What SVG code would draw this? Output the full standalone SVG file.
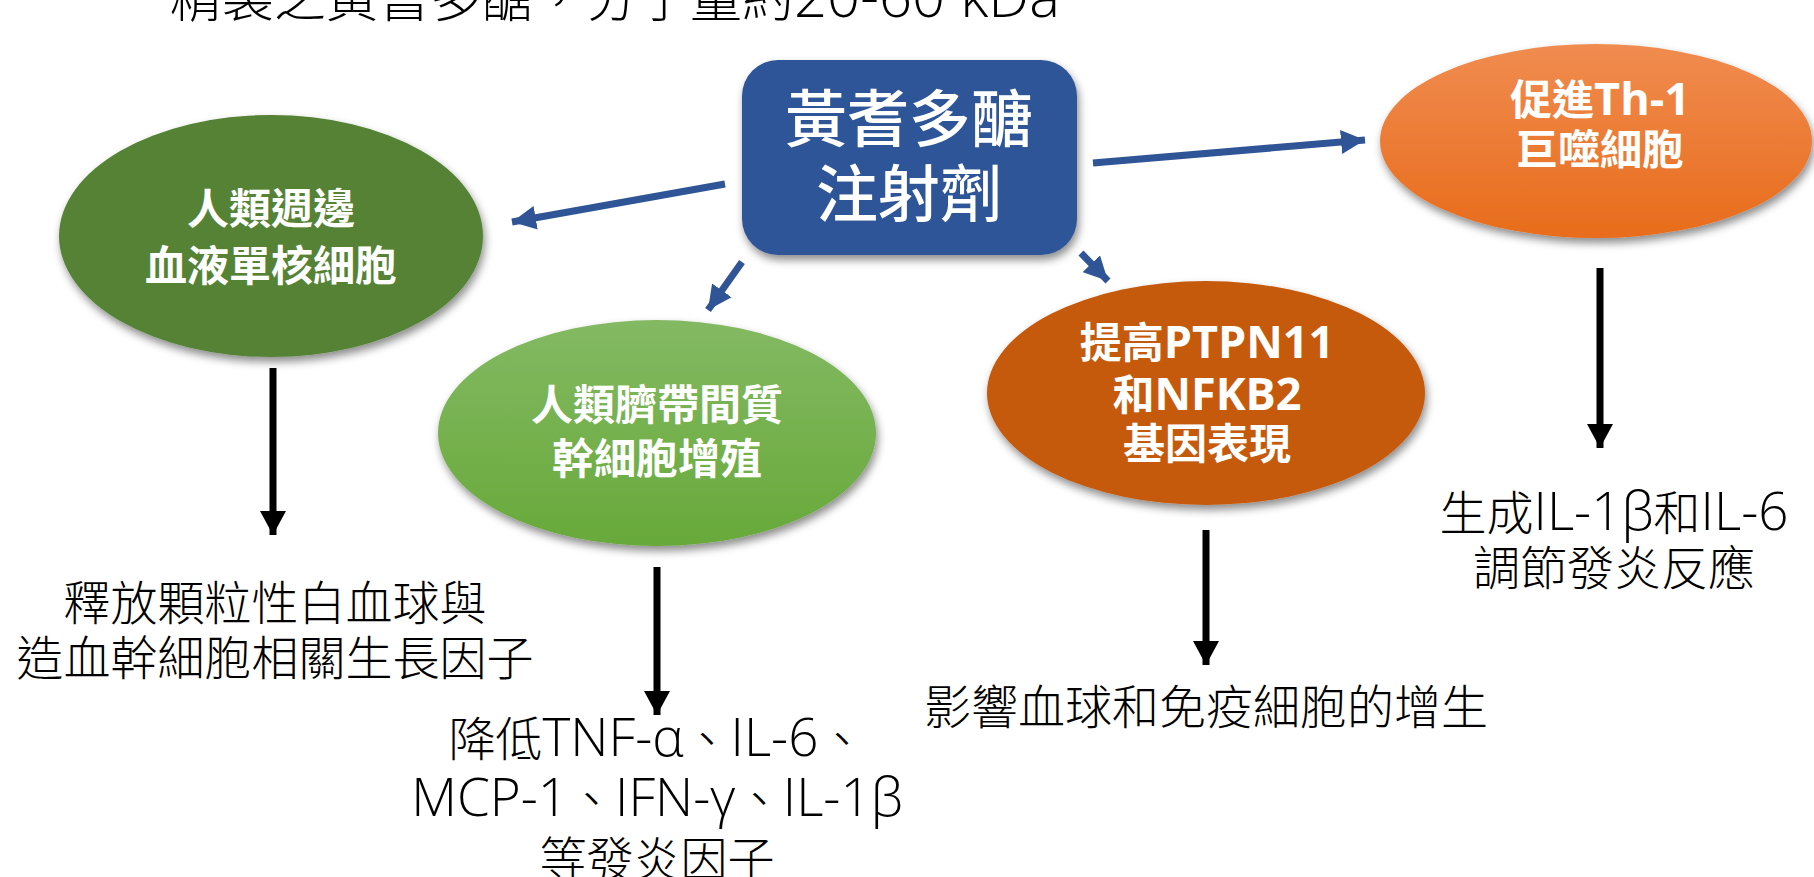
<svg xmlns="http://www.w3.org/2000/svg" width="1814" height="877" viewBox="0 0 1814 877">
<style>
.wt{fill:#fff;font-family:"Open Sans","Noto Sans CJK TC",sans-serif;font-weight:700;text-anchor:middle}
.bk{fill:#000;font-family:"Open Sans","Noto Sans CJK TC",sans-serif;font-weight:300;font-size:47px;text-anchor:middle}
.la{font-size:53px}
.lw{font-size:45px}
.blue{stroke:#2F5597;stroke-width:7;fill:none}
.black{stroke:#000;stroke-width:7;fill:none}
</style>
<defs>
<filter id="sh" x="-10%" y="-10%" width="125%" height="130%">
<feDropShadow dx="2" dy="5" stdDeviation="4" flood-color="#000" flood-opacity="0.45"/>
</filter>
<linearGradient id="gLight" x1="0" y1="0" x2="0" y2="1">
<stop offset="0" stop-color="#83B963"/>
<stop offset="1" stop-color="#68A93A"/>
</linearGradient>
<linearGradient id="gOrange" x1="0" y1="0" x2="0" y2="1">
<stop offset="0" stop-color="#F08C50"/>
<stop offset="1" stop-color="#E86C1B"/>
</linearGradient>
<marker id="aBlue" markerUnits="userSpaceOnUse" markerWidth="26" markerHeight="24" refX="24" refY="12" orient="auto">
<path d="M0,0 L24,12 L0,24 Z" fill="#2F5597"/>
</marker>
<marker id="aBlack" markerUnits="userSpaceOnUse" markerWidth="26" markerHeight="26" refX="24" refY="13" orient="auto">
<path d="M0,0 L24,13 L0,26 Z" fill="#000"/>
</marker>
</defs>
<rect width="1814" height="877" fill="#fff"/>

<text class="bk" x="170" y="17" style="font-size:52px;text-anchor:start">精製之黃耆多醣，分子量約<tspan style="font-size:58px">20-60 kDa</tspan></text>

<g id="connectors">
<line class="blue" x1="725" y1="184" x2="512" y2="222" marker-end="url(#aBlue)"/>
<line class="blue" x1="742" y1="262" x2="708" y2="310" marker-end="url(#aBlue)"/>
<line class="blue" x1="1081" y1="253" x2="1108" y2="281" marker-end="url(#aBlue)"/>
<line class="blue" x1="1093" y1="163" x2="1365" y2="140" marker-end="url(#aBlue)"/>
<line class="black" x1="273" y1="368" x2="273" y2="535" marker-end="url(#aBlack)"/>
<line class="black" x1="657" y1="567" x2="657" y2="715" marker-end="url(#aBlack)"/>
<line class="black" x1="1206" y1="530" x2="1206" y2="665" marker-end="url(#aBlack)"/>
<line class="black" x1="1600" y1="268" x2="1600" y2="448" marker-end="url(#aBlack)"/>
</g>

<g id="center">
<rect x="742" y="60" width="335" height="195" rx="36" fill="#2F5597" filter="url(#sh)"/>
<text class="wt" x="909" y="142" style="font-size:62px;font-weight:500">黃耆多醣</text>
<text class="wt" x="909" y="217" style="font-size:62px;font-weight:500">注射劑</text>
</g>

<g id="pbmc">
<ellipse cx="271" cy="236" rx="212" ry="121" fill="#548235" filter="url(#sh)"/>
<text class="wt" x="271" y="224" font-size="42">人類週邊</text>
<text class="wt" x="271" y="281" font-size="42">血液單核細胞</text>
</g>

<g id="mscs">
<ellipse cx="657" cy="433" rx="219" ry="113" fill="url(#gLight)" filter="url(#sh)"/>
<text class="wt" x="657" y="420" font-size="42">人類臍帶間質</text>
<text class="wt" x="657" y="474" font-size="42">幹細胞增殖</text>
</g>

<g id="ptpn">
<ellipse cx="1206" cy="393" rx="219" ry="112" fill="#C55A11" filter="url(#sh)"/>
<text class="wt" x="1207" y="358" font-size="42">提高<tspan class="lw">PTPN11</tspan></text>
<text class="wt" x="1207" y="410" font-size="42">和<tspan class="lw">NFKB2</tspan></text>
<text class="wt" x="1207" y="459" font-size="42">基因表現</text>
</g>

<g id="th1">
<ellipse cx="1596" cy="141" rx="216" ry="97" fill="url(#gOrange)" filter="url(#sh)"/>
<text class="wt" x="1600" y="115" font-size="42">促進<tspan class="lw">Th-1</tspan></text>
<text class="wt" x="1600" y="165" font-size="42">巨噬細胞</text>
</g>

<g id="out1">
<text class="bk" x="275" y="620">釋放顆粒性白血球與</text>
<text class="bk" x="275" y="675">造血幹細胞相關生長因子</text>
</g>
<g id="out2">
<text class="bk" x="657" y="756">降低<tspan class="la">TNF-α</tspan>、<tspan class="la">IL-6</tspan>、</text>
<text class="bk" x="657" y="816"><tspan class="la">MCP-1</tspan>、<tspan class="la">IFN-γ</tspan>、<tspan class="la">IL-1β</tspan></text>
<text class="bk" x="657" y="876">等發炎因子</text>
</g>
<g id="out3">
<text class="bk" x="1206" y="724">影響血球和免疫細胞的增生</text>
</g>
<g id="out4">
<text class="bk" x="1614" y="530">生成<tspan class="la">IL-1β</tspan>和<tspan class="la">IL-6</tspan></text>
<text class="bk" x="1614" y="585">調節發炎反應</text>
</g>
</svg>
